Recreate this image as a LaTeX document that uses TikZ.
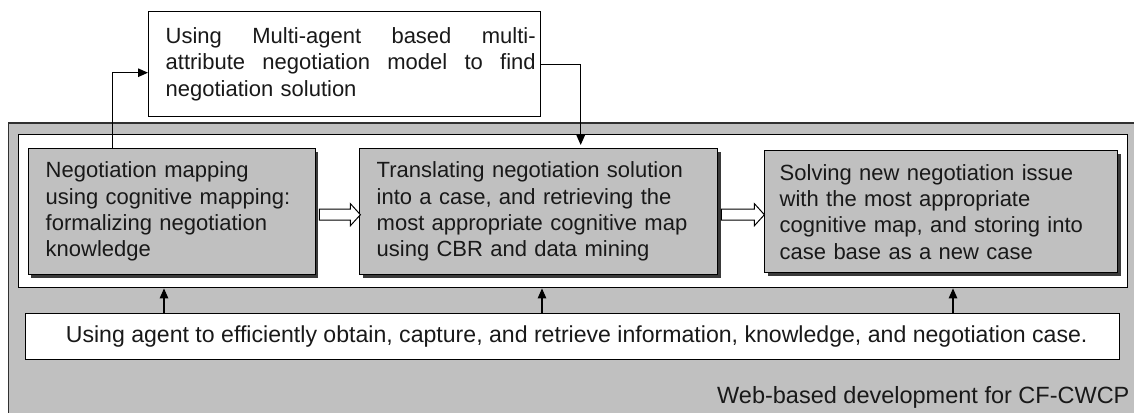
\documentclass[tikz,border=0pt]{standalone}
\usepackage{fontspec}
\setmainfont{Liberation Sans}
\usetikzlibrary{shadows,arrows.meta,calc}
\definecolor{silver}{HTML}{C0C0C0}
\definecolor{shade}{HTML}{3A3A3A}
\definecolor{frame}{HTML}{303030}
\hfuzz=50pt
\hbadness=10000
\begin{document}
\begin{tikzpicture}[x=1pt,y=-1pt,
  every node/.style={font=\fontsize{22}{26.3}\selectfont, text=black!90},
  procbox/.style={draw=black, line width=1.4pt, fill=silver, inner sep=0pt,
    anchor=north west, align=left,
    general shadow={fill=shade, shadow xshift=3pt, shadow yshift=-3pt}},
  whitebox/.style={draw=black, line width=1.4pt, fill=white, inner sep=0pt, anchor=north west},
  conn/.style={draw=black, line width=1.2pt, -{Triangle[length=10pt,width=8.5pt]}},
  hollow/.style={draw=black, line width=1pt, fill=white, line join=miter}]
\useasboundingbox (0,0) rectangle (1134,412);
\clip (0,0) rectangle (1134,412);
% outer web-based frame
\draw[draw=frame, line width=1.4pt, fill=silver] (8.7,123) rectangle (1160,440);
\node[anchor=east, font=\fontsize{23.5}{28}\selectfont] (web) at (1133,397) {Web-based development for CF-CWCP};
% inner white frame
\node[whitebox, minimum width=1109pt, minimum height=153pt] (inner) at (18,134) {};
% top box
\node[whitebox, minimum width=392pt, minimum height=105pt, text width=358pt, align=left] (top) at (148,11)
 {\makebox[370pt][l]{Using\hfill Multi-agent\hfill based\hfill multi-}\\
  \makebox[370pt][l]{attribute\hfill negotiation\hfill model\hfill to\hfill find}\\
  negotiation solution};
% process boxes
\node[procbox, minimum width=287pt, minimum height=126pt, text width=252pt] (b1) at (27.5,148)
 {Negotiation mapping\\using cognitive mapping:\\formalizing negotiation\\knowledge};
\node[procbox, minimum width=358pt, minimum height=126pt, text width=324pt] (b2) at (359,148)
 {Translating negotiation solution\\into a case, and retrieving the\\most appropriate cognitive map\\using CBR and data mining};
\node[procbox, minimum width=353pt, minimum height=122pt, text width=323pt] (b3) at (764,150)
 {Solving new negotiation issue\\with the most appropriate\\cognitive map, and storing into\\case base as a new case};
% agent box
\node[whitebox, minimum width=1094pt, minimum height=46pt] (agent) at (25,313) {};
\node[font=\fontsize{23.1}{27}\selectfont] (agenttext) at ($(agent.center)+(4,0)$) {Using agent to efficiently obtain, capture, and retrieve information, knowledge, and negotiation case.};
% hollow arrows
\draw[hollow] ($(b1.east)+(3.5,-2.5)$) -- ++(31,0) -- ++(0,-5.5) -- ++(10,11) -- ++(-10,11) -- ++(0,-5.5) -- ++(-31,0) -- cycle;
\draw[hollow] ($(b2.east)+(3,-2.5)$) -- ++(33,0) -- ++(0,-5.5) -- ++(10,11) -- ++(-10,11) -- ++(0,-5.5) -- ++(-33,0) -- cycle;
% connectors with top box
\coordinate (upstart) at ($(b1.north)+(-59,0)$);
\draw[conn] (upstart) |- ($(top.west)+(0,8.5)$);
\coordinate (downend) at ($(b2.north)+(42,-3)$);
\draw[conn] (top.east) -| (downend);
% agent arrows
\draw[conn] (agent.north -| 164,0) -- (inner.south -| 164,0);
\draw[conn] (agent.north -| 542,0) -- (inner.south -| 542,0);
\draw[conn] (agent.north -| 953,0) -- (inner.south -| 953,0);
\end{tikzpicture}
\end{document}
